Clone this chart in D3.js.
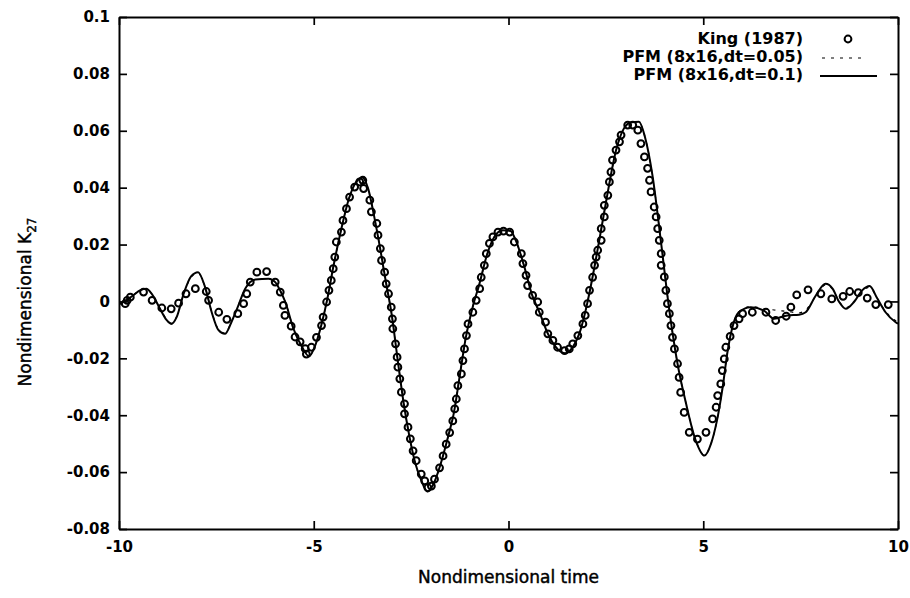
<!DOCTYPE html>
<html>
<head>
<meta charset="utf-8">
<script src="https://cdn.jsdelivr.net/npm/d3@7"></script>
<style>
  html, body { margin: 0; padding: 0; background: #fff; }
  svg { display: block; }
  text { font-family: "DejaVu Sans", "Liberation Sans", Arial, sans-serif; fill: #000; }
</style>
</head>
<body>
<svg id="chart" width="910" height="598"></svg>
<script>
// ---------------- data ----------------
const xTicks = [-10, -5, 0, 5, 10];
const xTickLabels = ["-10", "-5", "0", "5", "10"];
const yTicks = [-0.08, -0.06, -0.04, -0.02, 0, 0.02, 0.04, 0.06, 0.08, 0.1];
const yTickLabels = ["-0.08", "-0.06", "-0.04", "-0.02", "0", "0.02", "0.04", "0.06", "0.08", "0.1"];

const seriesNames = ["King (1987)", "PFM (8x16,dt=0.05)", "PFM (8x16,dt=0.1)"];

// King (1987) : open circles
const kingX = [-9.84,-9.79,-9.71,-9.37,-9.15,-8.90,-8.66,-8.47,-8.28,-8.04,-7.76,-7.70,-7.44,-7.23,-6.95,-6.80,-6.72,-6.63,-6.46,-6.21,
  -5.99,-5.86,-5.78,-5.74,-5.58,-5.48,-5.35,-5.22,-5.19,-5.06,-4.93,-4.80,-4.76,-4.67,-4.61,-4.55,-4.50,-4.46,-4.42,-4.29,
  -4.25,-4.16,-4.08,-3.95,-3.82,-3.74,-3.72,-3.56,-3.52,-3.38,-3.35,-3.29,-3.26,-3.18,-3.14,-3.08,-3.01,-2.98,-2.97,-2.90,
  -2.86,-2.84,-2.79,-2.75,-2.67,-2.67,-2.58,-2.52,-2.45,-2.37,-2.24,-2.15,-2.07,-1.98,-1.90,-1.77,-1.68,-1.60,-1.51,-1.43,
  -1.38,-1.34,-1.30,-1.21,-1.17,-1.13,-1.08,-1.04,-0.915,-0.83,-0.74,-0.70,-0.62,-0.57,-0.49,-0.40,-0.27,-0.13,0.03,0.15,
  0.33,0.37,0.45,0.49,0.62,0.75,0.79,0.95,1.01,1.14,1.26,1.44,1.56,1.65,1.78,1.91,1.97,2.03,2.08,2.16,
  2.21,2.25,2.29,2.38,2.38,2.46,2.46,2.55,2.59,2.63,2.67,2.76,2.85,2.89,3.06,3.19,3.32,3.40,3.49,3.57,
  3.62,3.66,3.74,3.79,3.83,3.87,3.92,3.92,4.00,4.04,4.08,4.13,4.17,4.21,4.26,4.34,4.38,4.42,4.51,4.64,
  4.85,5.07,5.24,5.33,5.37,5.45,5.49,5.54,5.58,5.69,5.79,5.92,6.01,6.26,6.61,6.86,7.13,7.25,7.40,7.69,
  8.02,8.30,8.59,8.76,8.98,9.21,9.43,9.75];
const kingY = [-0.0008,0.0004,0.0015,0.0033,0.0004,-0.0023,-0.0026,-0.0006,0.0027,0.0045,0.0035,0.0004,-0.0038,-0.0063,-0.0043,-0.0008,0.0027,0.0068,0.0103,0.0105,
  0.0068,0.0033,-0.0014,-0.0049,-0.0087,-0.0125,-0.0142,-0.0166,-0.0185,-0.0161,-0.0126,-0.0085,-0.0055,-0.0002,0.0039,0.0074,0.0115,0.0156,0.0209,0.0244,
  0.0285,0.0326,0.0367,0.0402,0.0420,0.0426,0.0397,0.0356,0.0315,0.0274,0.0233,0.0186,0.0144,0.0103,0.0062,0.0027,-0.0020,-0.0061,-0.0096,-0.0149,
  -0.0196,-0.0231,-0.0272,-0.0319,-0.0360,-0.0395,-0.0442,-0.0483,-0.0525,-0.0560,-0.0607,-0.0631,-0.0655,-0.0649,-0.0625,-0.0585,-0.0543,-0.0502,-0.0461,-0.0420,
  -0.0378,-0.0343,-0.0296,-0.0255,-0.0208,-0.0167,-0.0120,-0.0079,-0.0038,0.0004,0.0045,0.0085,0.0127,0.0168,0.0204,0.0227,0.0244,0.0247,0.0244,0.0209,
  0.0168,0.0133,0.0092,0.0056,0.0021,-0.0002,-0.0038,-0.0073,-0.0114,-0.0137,-0.0161,-0.0173,-0.0167,-0.0149,-0.0120,-0.0079,-0.0049,-0.0008,0.0039,0.0085,
  0.0127,0.0156,0.0180,0.0215,0.0256,0.0297,0.0338,0.0373,0.0420,0.0455,0.0497,0.0532,0.0561,0.0585,0.0620,0.0620,0.0602,0.0555,0.0508,0.0468,
  0.0426,0.0385,0.0332,0.0297,0.0256,0.0215,0.0168,0.0127,0.0086,0.0039,-0.0008,-0.0043,-0.0085,-0.0126,-0.0167,-0.0219,-0.0267,-0.0320,-0.0390,-0.0460,
  -0.0484,-0.0460,-0.0413,-0.0372,-0.0331,-0.0290,-0.0243,-0.0202,-0.0161,-0.0123,-0.0085,-0.0061,-0.0043,-0.0038,-0.0038,-0.0067,-0.0052,-0.0020,0.0023,0.0041,
  0.0027,0.0009,0.0018,0.0035,0.0031,0.0012,-0.0011,-0.0011];

// PFM time grid (shared by both PFM runs)
const pfmX = [-10.0,-9.85,-9.65,-9.45,-9.30,-9.15,-8.95,-8.78,-8.66,-8.52,-8.34,-8.15,-7.97,-7.80,-7.62,-7.45,-7.28,-7.12,-6.97,-6.76,
  -6.50,-6.16,-5.99,-5.85,-5.73,-5.52,-5.30,-5.12,-4.95,-4.80,-4.65,-4.50,-4.30,-4.10,-3.92,-3.75,-3.60,-3.45,-3.30,-3.15,
  -3.00,-2.85,-2.70,-2.55,-2.40,-2.25,-2.08,-1.92,-1.75,-1.55,-1.40,-1.25,-1.10,-0.92,-0.75,-0.55,-0.35,-0.15,0.05,0.20,
  0.40,0.60,0.80,1.00,1.20,1.45,1.65,1.85,2.00,2.15,2.35,2.55,2.75,2.95,3.15,3.35,3.50,3.70,3.92,4.13,
  4.34,4.56,4.81,5.03,5.20,5.35,5.50,5.62,5.75,5.90,6.22,6.56,6.82,7.16,7.46,7.63,7.89,8.14,8.32,8.49,
  8.66,8.87,9.08,9.27,9.47,9.68,9.94,10.0];

// PFM (8x16, dt=0.1) : solid line
const pfm01Y = [-0.0010,0.0000,0.0020,0.0040,0.0045,0.0025,-0.0025,-0.0065,-0.0079,-0.0055,0.0027,0.0088,0.0103,0.0055,-0.0038,-0.0100,-0.0114,-0.0075,-0.0026,0.0045,
  0.0077,0.0080,0.0068,0.0035,-0.0002,-0.0096,-0.0160,-0.0193,-0.0150,-0.0080,0.0010,0.0120,0.0250,0.0360,0.0418,0.0436,0.0395,0.0300,0.0190,0.0070,
  -0.0045,-0.0200,-0.0350,-0.0470,-0.0565,-0.0625,-0.0668,-0.0640,-0.0575,-0.0475,-0.0390,-0.0260,-0.0130,-0.0020,0.0060,0.0165,0.0230,0.0250,0.0248,0.0210,
  0.0125,0.0025,-0.0040,-0.0110,-0.0158,-0.0182,-0.0160,-0.0100,-0.0020,0.0080,0.0230,0.0385,0.0525,0.0605,0.0630,0.0632,0.0580,0.0440,0.0203,-0.0032,
  -0.0219,-0.0360,-0.0490,-0.0542,-0.0500,-0.0420,-0.0300,-0.0180,-0.0090,-0.0040,-0.0020,-0.0032,-0.0061,-0.0049,-0.0047,-0.0038,0.0021,0.0062,0.0045,-0.0002,
  -0.0026,-0.0002,0.0039,0.0054,0.0010,-0.0038,-0.0073,-0.0078];

// PFM (8x16, dt=0.05) : dotted line (almost on top of the dt=0.1 run)
const pfm005Y = [-0.0008,0.0002,0.0021,0.0040,0.0044,0.0024,-0.0024,-0.0062,-0.0076,-0.0053,0.0026,0.0085,0.0100,0.0054,-0.0036,-0.0097,-0.0111,-0.0073,-0.0025,0.0044,
  0.0077,0.0080,0.0068,0.0035,-0.0002,-0.0096,-0.0160,-0.0192,-0.0150,-0.0080,0.0010,0.0120,0.0250,0.0360,0.0418,0.0435,0.0395,0.0300,0.0190,0.0070,
  -0.0045,-0.0200,-0.0350,-0.0470,-0.0565,-0.0625,-0.0667,-0.0640,-0.0575,-0.0475,-0.0390,-0.0260,-0.0130,-0.0020,0.0060,0.0165,0.0230,0.0250,0.0248,0.0210,
  0.0125,0.0025,-0.0040,-0.0110,-0.0158,-0.0182,-0.0160,-0.0100,-0.0020,0.0080,0.0230,0.0385,0.0525,0.0605,0.0630,0.0631,0.0580,0.0440,0.0203,-0.0032,
  -0.0219,-0.0360,-0.0490,-0.0540,-0.0500,-0.0420,-0.0300,-0.0180,-0.0090,-0.0038,-0.0018,-0.0025,-0.0030,-0.0035,-0.0040,-0.0030,0.0018,0.0058,0.0043,0.0000,
  -0.0022,0.0000,0.0036,0.0050,0.0010,-0.0035,-0.0068,-0.0072];

// ---------------- chart ----------------
const svg = d3.select("#chart");
const margin = {left: 119, right: 12, top: 17, bottom: 69};
const W = 910, H = 598;
const x = d3.scaleLinear().domain([-10, 10]).range([margin.left, W - margin.right]);
const y = d3.scaleLinear().domain([-0.08, 0.1]).range([H - margin.bottom, margin.top]);

const x0 = x.range()[0], x1 = x.range()[1], y0 = y.range()[0], y1 = y.range()[1];

// axes (ticks pointing inward)
const axisStyle = g => {
  g.selectAll(".domain").attr("stroke", "#000").attr("stroke-width", 2);
  g.selectAll(".tick line").attr("stroke", "#000").attr("stroke-width", 1.7);
  g.selectAll(".tick text").attr("font-family", '"DejaVu Sans", sans-serif')
    .attr("font-size", 15).attr("font-weight", "bold").attr("fill", "#000");
};

svg.append("g").attr("transform", `translate(0,${y0})`)
  .call(d3.axisBottom(x).tickValues(xTicks).tickSize(-8).tickSizeOuter(0).tickPadding(12)
    .tickFormat((d, i) => xTickLabels[i]))
  .call(axisStyle);
svg.append("g").attr("transform", `translate(0,${y1})`)
  .call(d3.axisTop(x).tickValues(xTicks).tickSize(-8).tickSizeOuter(0).tickFormat(""))
  .call(axisStyle);
svg.append("g").attr("transform", `translate(${x0},0)`)
  .call(d3.axisLeft(y).tickValues(yTicks).tickSize(-8).tickSizeOuter(0).tickPadding(9)
    .tickFormat((d, i) => yTickLabels[i]))
  .call(axisStyle);
svg.append("g").attr("transform", `translate(${x1},0)`)
  .call(d3.axisRight(y).tickValues(yTicks).tickSize(-8).tickSizeOuter(0).tickFormat(""))
  .call(axisStyle);

// axis titles
svg.append("text")
  .attr("x", (x0 + x1) / 2).attr("y", 583)
  .attr("text-anchor", "middle").attr("font-size", 17)
  .attr("stroke", "#000").attr("stroke-width", 0.45)
  .text("Nondimensional time");

const yt = svg.append("text")
  .attr("transform", "translate(31,302) rotate(-90)")
  .attr("text-anchor", "middle").attr("font-size", 17)
  .attr("stroke", "#000").attr("stroke-width", 0.45);
yt.append("tspan").text("Nondimensional K");
yt.append("tspan").attr("font-size", 12).attr("dy", 5).text("27");

// clip to plot
svg.append("clipPath").attr("id", "clip").append("rect")
  .attr("x", x0).attr("y", y1).attr("width", x1 - x0).attr("height", y0 - y1);
const plot = svg.append("g").attr("clip-path", "url(#clip)");

const line = d3.line().x(d => x(d[0])).y(d => y(d[1])).curve(d3.curveMonotoneX);

plot.append("path")
  .datum(pfmX.map((t, i) => [t, pfm005Y[i]]))
  .attr("fill", "none").attr("stroke", "#000").attr("stroke-width", 1.2)
  .attr("stroke-dasharray", "3,6")
  .attr("d", line);

plot.append("path")
  .datum(pfmX.map((t, i) => [t, pfm01Y[i]]))
  .attr("fill", "none").attr("stroke", "#000").attr("stroke-width", 2)
  .attr("d", line);

plot.selectAll("circle.king")
  .data(kingX.map((t, i) => [t, kingY[i]]))
  .join("circle").attr("class", "king")
  .attr("cx", d => x(d[0])).attr("cy", d => y(d[1]))
  .attr("r", 3.4).attr("fill", "none").attr("stroke", "#000").attr("stroke-width", 2);

// legend
const legend = svg.append("g");
const legRows = [44, 62, 80];
seriesNames.forEach((name, i) => {
  legend.append("text").attr("x", 803).attr("y", legRows[i])
    .attr("text-anchor", "end").attr("font-size", 16).attr("font-weight", "bold")
    .text(name);
});
legend.append("circle").attr("cx", 848).attr("cy", legRows[0] - 5).attr("r", 3.4)
  .attr("fill", "none").attr("stroke", "#000").attr("stroke-width", 2);
legend.append("line").attr("x1", 822).attr("x2", 862).attr("y1", legRows[1] - 4).attr("y2", legRows[1] - 4)
  .attr("stroke", "#000").attr("stroke-width", 1.2).attr("stroke-dasharray", "3,6");
legend.append("line").attr("x1", 820).attr("x2", 877).attr("y1", legRows[2] - 4).attr("y2", legRows[2] - 4)
  .attr("stroke", "#000").attr("stroke-width", 2);
</script>
</body>
</html>
